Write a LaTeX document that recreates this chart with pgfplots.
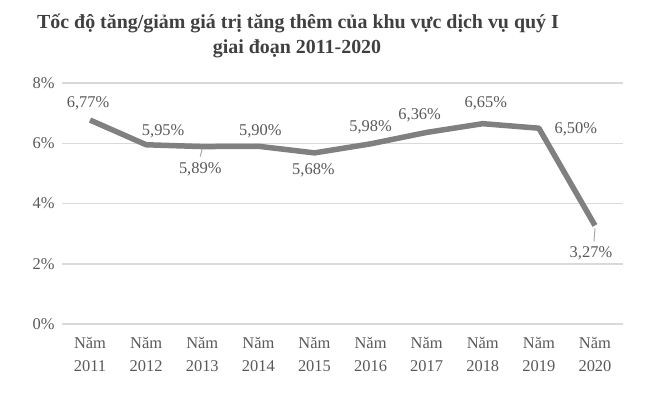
\documentclass[border=0pt]{standalone}
\usepackage{fontspec}
\setmainfont{Liberation Serif}
\usepackage{pgfplots}
\pgfplotsset{compat=1.18}
\definecolor{lineg}{RGB}{128,128,128}
\definecolor{gridg}{RGB}{217,217,217}
\definecolor{txtg}{RGB}{89,89,89}
\definecolor{titg}{RGB}{64,64,64}
\definecolor{leadg}{RGB}{166,166,166}
\begin{document}
\begin{tikzpicture}[x=1bp,y=1bp]
\path[use as bounding box] (0,0) rectangle (650,392);
\node[font=\bfseries\fontsize{20}{24}\selectfont, text=titg] at (298,369) {Tốc độ tăng/giảm giá trị tăng thêm của khu vực dịch vụ quý I};
\node[font=\bfseries\fontsize{20}{24}\selectfont, text=titg] at (297,343) {giai đoạn 2011-2020};
\begin{axis}[at={(62bp,68bp)}, anchor=south west, scale only axis,
  width=561bp, height=241bp,
  xmin=-0.5, xmax=9.5, ymin=0, ymax=8,
  ytick={0,2,4,6,8}, yticklabels={0\%,2\%,4\%,6\%,8\%},
  xtick={0,...,9},
  xticklabels={Năm\\2011,Năm\\2012,Năm\\2013,Năm\\2014,Năm\\2015,Năm\\2016,Năm\\2017,Năm\\2018,Năm\\2019,Năm\\2020},
  axis line style={draw=none}, major tick length=0pt,
  ymajorgrids, grid style={gridg, line width=1.5bp},
  tick label style={text=txtg, font=\fontsize{16.5}{23}\selectfont},
  xticklabel style={align=center, yshift=-10bp},
  yticklabel style={xshift=-4bp},
  clip=false]
\addplot[lineg, line width=5.5bp, line join=round] coordinates {
(0,6.77) (1,5.95) (2,5.89) (3,5.90) (4,5.68) (5,5.98) (6,6.36) (7,6.65) (8,6.50) (9,3.27)};
\tikzset{dl/.style={text=txtg, font=\fontsize{16.5}{19}\selectfont, inner sep=0pt}}
\node[dl] at ([xshift=-2bp,yshift=17bp]axis cs:0,6.77) {6,77\%};
\node[dl] at ([xshift=17bp,yshift=13bp]axis cs:1,5.95) {5,95\%};
\node[dl] at ([xshift=-2bp,yshift=-23bp]axis cs:2,5.89) {5,89\%};
\node[dl] at ([xshift=2bp,yshift=15bp]axis cs:3,5.90) {5,90\%};
\node[dl] at ([xshift=-1bp,yshift=-17bp]axis cs:4,5.68) {5,68\%};
\node[dl] at ([xshift=0bp,yshift=17bp]axis cs:5,5.98) {5,98\%};
\node[dl] at ([xshift=-7bp,yshift=17bp]axis cs:6,6.36) {6,36\%};
\node[dl] at ([xshift=3bp,yshift=20bp]axis cs:7,6.65) {6,65\%};
\node[dl] at ([xshift=37bp,yshift=-1bp]axis cs:8,6.50) {6,50\%};
\node[dl] at ([xshift=-4bp,yshift=-28bp]axis cs:9,3.27) {3,27\%};
\draw[leadg, line width=1bp] ([yshift=-2bp]axis cs:2,5.89) -- ([xshift=-2bp,yshift=-10bp]axis cs:2,5.89);
\draw[leadg, line width=1bp] ([yshift=-3bp]axis cs:9,3.27) -- ([xshift=-1bp,yshift=-16bp]axis cs:9,3.27);
\end{axis}
\end{tikzpicture}
\end{document}
